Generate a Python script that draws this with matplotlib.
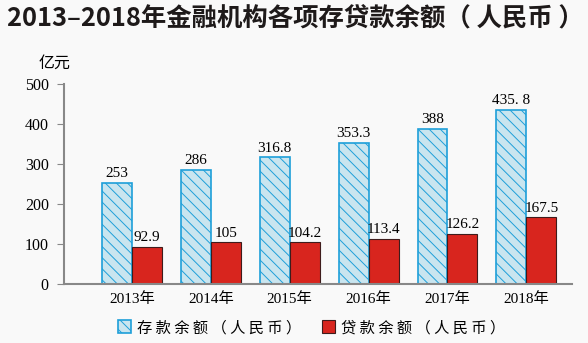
import numpy as np
import matplotlib.pyplot as plt

plt.rcParams['font.family'] = ['Liberation Serif', 'Noto Sans CJK SC']
plt.rcParams['hatch.linewidth'] = 0.7

# donnees
annees = ['2013年', '2014年', '2015年', '2016年', '2017年', '2018年']
cunkuan = [253, 286, 316.8, 353.3, 388, 435.8]
daikuan = [92.9, 105, 104.2, 113.4, 126.2, 167.5]
lab_cun = ['253', '286', '316.8', '353.3', '388', '435. 8']
lab_dai = ['92.9', '105', '104.2', '113.4', '126.2', '167.5']

fig = plt.figure(figsize=(5.88, 3.43), dpi=100)
fig.patch.set_facecolor('#f9f9f9')
ax = fig.add_axes([0.109, 0.172, 0.864, 0.583])
ax.set_facecolor('#f9f9f9')

x = np.arange(len(annees))
w = 0.38
b1 = ax.bar(x - w/2, cunkuan, w, facecolor='#c9e5ef', edgecolor='#1e9fd9',
            hatch='\\\\\\', linewidth=1.2, label='存 款 余 额 （ 人 民 币 ）')
b2 = ax.bar(x + w/2, daikuan, w, facecolor='#d8251e', edgecolor='#3e1c1c',
            linewidth=0.8, label='贷 款 余 额 （ 人 民 币 ）')

for i in range(len(x)):
    ax.text(x[i] - w/2, cunkuan[i] + 6, lab_cun[i], ha='center', va='bottom', fontsize=11)
    ax.text(x[i] + w/2, daikuan[i] + 6, lab_dai[i], ha='center', va='bottom', fontsize=11)

ax.set_xlim(-0.86, 5.58)
ax.set_ylim(0, 500)
ax.set_yticks([0, 100, 200, 300, 400, 500])
ax.set_xticks(x)
ax.set_xticklabels(annees, fontsize=11)
ax.tick_params(axis='x', length=0, pad=6)
ax.tick_params(axis='y', length=5, color='#888888', labelsize=11.5, pad=6)
for s in ['top', 'right']:
    ax.spines[s].set_visible(False)
ax.spines['left'].set_color('#888888')
ax.spines['bottom'].set_color('#888888')
ax.spines['left'].set_linewidth(1.5)
ax.spines['bottom'].set_linewidth(1.5)

fig.text(0.012, 0.947, '2013–2018年金融机构各项存贷款余额（ 人民币 ）', fontsize=18.3,
         fontweight='bold', family=['Noto Sans CJK SC', 'DejaVu Sans'], color='#1e1a1a',
         va='center')
fig.text(0.066, 0.815, '亿元', fontsize=11.5, family=['Noto Sans CJK SC'], va='center')

fig.legend(handles=[b1, b2], loc='center', bbox_to_anchor=(0.53, 0.045), ncol=2,
           frameon=False, handlelength=0.9, handleheight=0.9,
           handletextpad=0.4, columnspacing=1.3, prop={'family': ['Noto Sans CJK SC'], 'size': 11})

fig.savefig('out.png', dpi=100, facecolor=fig.get_facecolor())
